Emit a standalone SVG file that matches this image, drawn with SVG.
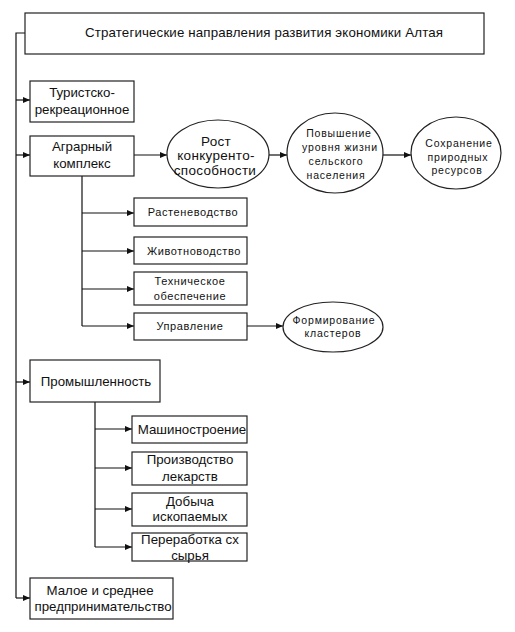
<svg xmlns="http://www.w3.org/2000/svg" width="515" height="632" viewBox="0 0 515 632">
<defs>
<marker id="ah" markerWidth="7" markerHeight="6" refX="7" refY="3" orient="auto" markerUnits="userSpaceOnUse">
<path d="M0,0 L7,3 L0,6 Z" fill="#111"/>
</marker>
<style>
.b{fill:#fff;stroke:#222;stroke-width:1.2}
.c{fill:none;stroke:#111;stroke-width:1.2}
.a{marker-end:url(#ah)}
text{font-family:"Liberation Sans",Arial,sans-serif;fill:#111;text-anchor:middle}
.t1{font-size:13.3px}
.t2{font-size:13.5px;letter-spacing:0.3px}
.t3{font-size:11px;letter-spacing:0.6px}
.t4{font-size:10.5px;letter-spacing:0.8px}
</style>
</defs>
<rect width="515" height="632" fill="#fff"/>
<g id="connectors">
<path class="c" d="M25,33 H16 V598"/>
<path class="c a" d="M16,100 H30"/>
<path class="c a" d="M16,155 H30"/>
<path class="c a" d="M16,382 H30"/>
<path class="c a" d="M16,598 H30"/>
<path class="c a" d="M134,155 H167"/>
<path class="c a" d="M269,155 H287"/>
<path class="c a" d="M383,155 H411"/>
<path class="c" d="M82,176 V326"/>
<path class="c a" d="M82,213 H134"/>
<path class="c a" d="M82,251 H134"/>
<path class="c a" d="M82,289 H134"/>
<path class="c a" d="M82,326 H134"/>
<path class="c a" d="M247,326 H283"/>
<path class="c" d="M95,402 V547"/>
<path class="c a" d="M95,429 H132"/>
<path class="c a" d="M95,468 H132"/>
<path class="c a" d="M95,509 H132"/>
<path class="c a" d="M95,547 H132"/>
</g>
<g id="title"><rect class="b" x="25" y="13" width="459" height="41"/><text class="t1" x="264" y="37" textLength="358" lengthAdjust="spacing">Стратегические направления развития экономики Алтая</text></g>
<g id="tourism"><rect class="b" x="30" y="81" width="104" height="41"/><text class="t1" x="82" y="97">Туристско-</text><text class="t1" x="82" y="114">рекреационное</text></g>
<g id="agro"><rect class="b" x="30" y="136" width="104" height="40"/><text class="t1" x="82" y="151">Аграрный</text><text class="t1" x="82" y="168">комплекс</text></g>
<g id="growth"><ellipse class="b" cx="218" cy="154" rx="51" ry="34"/><text class="t2" x="216" y="146">Рост</text><text class="t2" x="216" y="160">конкуренто-</text><text class="t2" x="215" y="175">способности</text></g>
<g id="living"><ellipse class="b" cx="335" cy="153" rx="48" ry="40"/><text class="t4" x="339" y="137">Повышение</text><text class="t4" x="340" y="151">уровня жизни</text><text class="t4" x="336" y="165">сельского</text><text class="t4" x="336" y="179">населения</text></g>
<g id="nature"><ellipse class="b" cx="456" cy="153" rx="45" ry="36"/><text class="t4" x="459" y="147">Сохранение</text><text class="t4" x="458" y="161">природных</text><text class="t4" x="457" y="174">ресурсов</text></g>
<g id="crops"><rect class="b" x="134" y="198" width="113" height="28"/><text class="t3" x="193" y="216">Растеневодство</text></g>
<g id="livestock"><rect class="b" x="134" y="237" width="113" height="27"/><text class="t3" x="194" y="255">Животноводство</text></g>
<g id="tech"><rect class="b" x="134" y="272" width="113" height="33"/><text class="t3" x="190" y="285">Техническое</text><text class="t3" x="190" y="300">обеспечение</text></g>
<g id="mgmt"><rect class="b" x="134" y="313" width="113" height="27"/><text class="t3" x="190" y="330">Управление</text></g>
<g id="clusters"><ellipse class="b" cx="333" cy="327" rx="50" ry="25"/><text class="t4" x="334" y="324">Формирование</text><text class="t4" x="333" y="337">кластеров</text></g>
<g id="industry"><rect class="b" x="30" y="360" width="130" height="42"/><text class="t1" x="96" y="386">Промышленность</text></g>
<g id="machine"><rect class="b" x="132" y="416" width="115" height="27"/><text class="t1" x="192" y="434">Машиностроение</text></g>
<g id="pharma"><rect class="b" x="132" y="452" width="115" height="33"/><text class="t1" x="190" y="464">Производство</text><text class="t1" x="190" y="481">лекарств</text></g>
<g id="mining"><rect class="b" x="132" y="493" width="115" height="33"/><text class="t1" x="190" y="506">Добыча</text><text class="t1" x="190" y="521">ископаемых</text></g>
<g id="processing"><rect class="b" x="132" y="533" width="115" height="28"/><text class="t1" x="190" y="544">Переработка сх</text><text class="t1" x="190" y="560">сырья</text></g>
<g id="sme"><rect class="b" x="30" y="578" width="143" height="41"/><text class="t1" x="100" y="595">Малое и среднее</text><text class="t1" x="103" y="611">предпринимательство</text></g>
</svg>
